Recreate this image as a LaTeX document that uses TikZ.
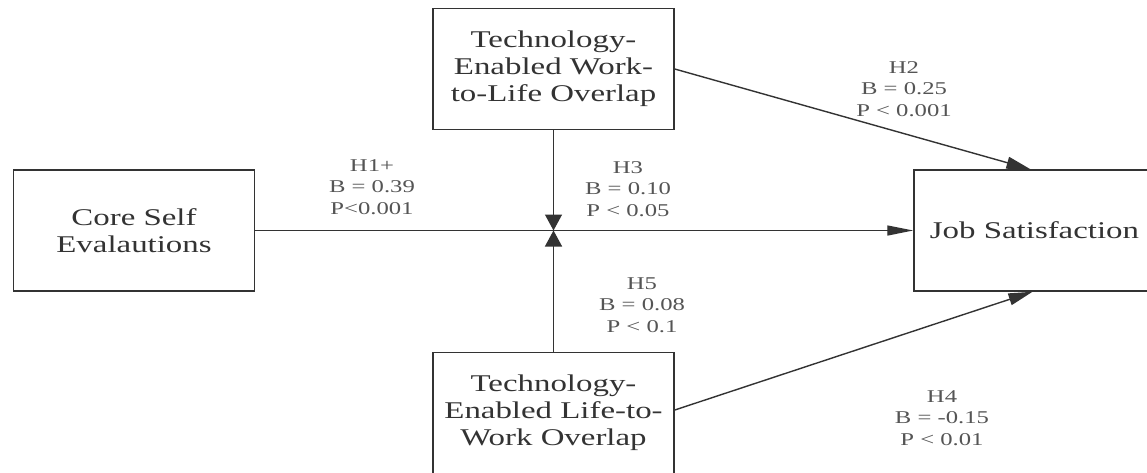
\documentclass[tikz,border=0pt]{standalone}
\usepackage{fontspec}
\setmainfont[FakeStretch=1.37]{Liberation Serif}
\usetikzlibrary{arrows.meta,calc}
\definecolor{linegray}{HTML}{333333}
\definecolor{textgray}{HTML}{333333}
\definecolor{labelgray}{HTML}{555555}
\begin{document}
\begin{tikzpicture}[x=1pt,y=-1pt,
  varbox/.style={draw=linegray,line width=1.5pt,minimum width=241pt,minimum height=121pt,
    inner sep=0pt,align=center,text=textgray,font=\fontsize{24}{27}\selectfont},
  pathlabel/.style={align=center,text=labelgray,inner sep=0pt,font=\fontsize{18}{21.5}\selectfont},
  conn/.style={draw=linegray,line width=1.4pt},
  htip/.style={-{Triangle[length=26pt,width=10pt]}},
  vtip/.style={-{Triangle[length=16pt,width=17pt]}},
  dtip/.style={-{Triangle[length=24pt,width=12pt]}}]
\useasboundingbox (0,0) rectangle (1147,472);
\clip (0,0) rectangle (1147,472);
\fill[white] (0,0) rectangle (1147,472);

\node[varbox] (cse) at (134,230.5) {Core Self\\Evalautions};
\node[varbox] (wtl) at (553.5,69) {Technology-\\Enabled Work-\\to-Life Overlap};
\node[varbox] (ltw) at (553.5,413) {Technology-\\Enabled Life-to-\\Work Overlap};
\node[varbox] (js) at (1034.5,230.5) {Job Satisfaction};

\coordinate (m) at (553.5,230.5);
\coordinate (wtlout) at ($(wtl.north east)!0.5!(wtl.south east)$);
\coordinate (ltwout) at (ltw.north east |- 0,410);
\coordinate (jstop) at ($(js.north)+(-4,0)$);
\coordinate (jsbot) at ($(js.south)+(-2,0)$);

\draw[conn,htip] (cse.east) -- (js.west);
\draw[conn,vtip] (wtl.south) -- (m);
\draw[conn,vtip] (ltw.north) -- (m);
\draw[conn,dtip] (wtlout) -- (jstop);
\draw[conn,dtip] (ltwout) -- (jsbot);

\node[pathlabel] (l1) at (372,187) {H1+\\B = 0.39\\P<0.001};
\node[pathlabel] (l3) at (628,189) {H3\\B = 0.10\\P < 0.05};
\node[pathlabel] (l2) at (904,89) {H2\\B = 0.25\\P < 0.001};
\node[pathlabel] (l5) at (642,305) {H5\\B = 0.08\\P < 0.1};
\node[pathlabel] (l4) at (942,418) {H4\\B = -0.15\\P < 0.01};
\end{tikzpicture}
\end{document}
